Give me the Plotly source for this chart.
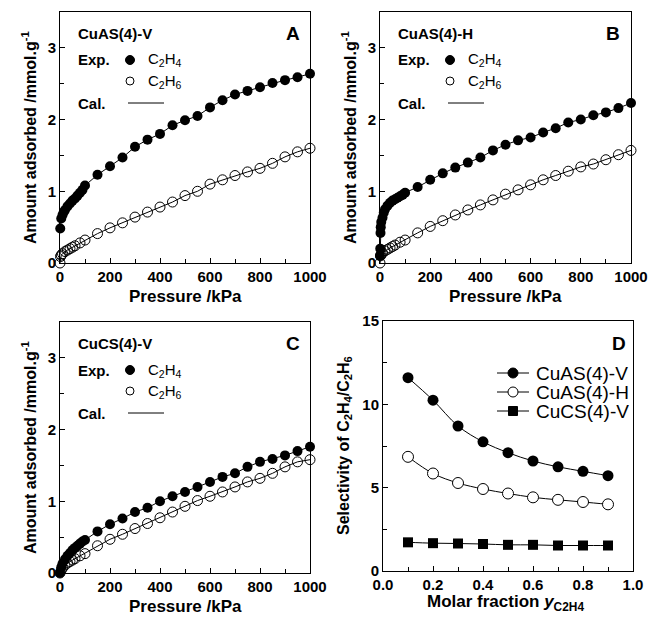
import plotly.graph_objects as go

W, H = 651, 628

# ---------------- data ----------------
# Panel A : CuAS(4)-V
A_P_C2H4 = [1, 5, 10, 15, 20, 30, 40, 50, 60, 70, 80, 90, 100, 150, 200, 250, 300, 350, 400,
            450, 500, 550, 600, 650, 700, 750, 800, 850, 900, 950, 1000]
A_C2H4 = [0.48, 0.62, 0.67, 0.71, 0.74, 0.79, 0.83, 0.87, 0.90, 0.94, 0.98, 1.02, 1.08, 1.23,
          1.35, 1.47, 1.62, 1.72, 1.80, 1.92, 1.99, 2.05, 2.17, 2.27, 2.35, 2.40, 2.45, 2.51,
          2.55, 2.59, 2.64]
A_P_C2H6 = [0, 2, 5, 10, 20, 30, 40, 50, 60, 80, 100, 150, 200, 250, 300, 350, 400, 450, 500,
            550, 600, 650, 700, 750, 800, 850, 900, 950, 1000]
A_C2H6 = [0.0, 0.09, 0.11, 0.13, 0.16, 0.18, 0.20, 0.22, 0.24, 0.28, 0.32, 0.41, 0.49, 0.56,
          0.64, 0.71, 0.78, 0.85, 0.94, 1.00, 1.10, 1.16, 1.22, 1.27, 1.32, 1.39, 1.48, 1.55, 1.60]

# Panel B : CuAS(4)-H
B_P_C2H4 = [0, 1, 2, 3, 5, 10, 15, 20, 30, 40, 50, 60, 70, 80, 90, 100, 150, 200, 250, 300,
            350, 400, 450, 500, 550, 600, 650, 700, 750, 800, 850, 900, 950, 1000]
B_C2H4 = [0.10, 0.20, 0.42, 0.50, 0.57, 0.63, 0.70, 0.75, 0.80, 0.84, 0.87, 0.89, 0.91, 0.93,
          0.95, 0.98, 1.06, 1.16, 1.25, 1.33, 1.40, 1.47, 1.57, 1.65, 1.71, 1.75, 1.82, 1.88,
          1.96, 2.00, 2.06, 2.10, 2.16, 2.23]
B_P_C2H6 = [0, 2, 5, 10, 20, 30, 40, 50, 60, 80, 100, 150, 200, 250, 300, 350, 400, 450, 500,
            550, 600, 650, 700, 750, 800, 850, 900, 950, 1000]
B_C2H6 = [0.0, 0.10, 0.12, 0.14, 0.17, 0.19, 0.21, 0.23, 0.25, 0.29, 0.32, 0.42, 0.51, 0.59,
          0.67, 0.74, 0.81, 0.88, 0.96, 1.02, 1.09, 1.16, 1.22, 1.28, 1.34, 1.38, 1.44, 1.51, 1.57]

# Panel C : CuCS(4)-V
C_P_C2H4 = [0, 5, 10, 20, 30, 40, 50, 60, 70, 80, 90, 100, 150, 200, 250, 300, 350, 400, 450,
            500, 550, 600, 650, 700, 750, 800, 850, 900, 950, 1000]
C_C2H4 = [0.0, 0.08, 0.13, 0.19, 0.24, 0.28, 0.32, 0.35, 0.38, 0.41, 0.44, 0.46, 0.58, 0.68,
          0.76, 0.85, 0.91, 1.00, 1.07, 1.13, 1.20, 1.27, 1.34, 1.39, 1.48, 1.55, 1.59, 1.64,
          1.70, 1.76]
C_P_C2H6 = [0, 5, 10, 20, 30, 40, 50, 60, 80, 100, 150, 200, 250, 300, 350, 400, 450, 500,
            550, 600, 650, 700, 750, 800, 850, 900, 950, 1000]
C_C2H6 = [0.0, 0.04, 0.07, 0.11, 0.14, 0.16, 0.18, 0.20, 0.24, 0.27, 0.38, 0.47, 0.54, 0.62,
          0.69, 0.77, 0.85, 0.93, 1.01, 1.07, 1.13, 1.20, 1.27, 1.32, 1.39, 1.48, 1.55, 1.58]

# Panel D : selectivity
D_y = [0.1, 0.2, 0.3, 0.4, 0.5, 0.6, 0.7, 0.8, 0.9]
D_CuAS_V = [11.6, 10.25, 8.7, 7.75, 7.1, 6.6, 6.25, 5.98, 5.72]
D_CuAS_H = [6.85, 5.85, 5.28, 4.92, 4.65, 4.42, 4.27, 4.14, 4.0]
D_CuCS_V = [1.72, 1.67, 1.65, 1.62, 1.57, 1.57, 1.53, 1.53, 1.53]

FONT = "Liberation Sans, Arial, sans-serif"


def px(x, y):
    return x / W, 1 - y / H


# panel frames in pixels: (left, right, top, bottom)
frames = {
    1: (60, 310, 12, 263),
    2: (380, 631, 12, 263),
    3: (60, 310, 322, 573),
    4: (383, 633, 321, 571),
}

fig = go.Figure()

iso = [
    (1, A_P_C2H4, A_C2H4, A_P_C2H6, A_C2H6),
    (2, B_P_C2H4, B_C2H4, B_P_C2H6, B_C2H6),
    (3, C_P_C2H4, C_C2H4, C_P_C2H6, C_C2H6),
]
for k, p4, v4, p6, v6 in iso:
    xa = "x" if k == 1 else f"x{k}"
    ya = "y" if k == 1 else f"y{k}"
    for p, v in ((p4, v4), (p6, v6)):
        fig.add_trace(go.Scatter(x=p, y=v, mode="lines", line=dict(color="black", width=1),
                                 xaxis=xa, yaxis=ya, showlegend=False, cliponaxis=False,
                                 hoverinfo="skip"))
    fig.add_trace(go.Scatter(x=p6, y=v6, mode="markers", xaxis=xa, yaxis=ya, showlegend=False,
                             cliponaxis=False,
                             marker=dict(symbol="circle-open", size=10, color="black",
                                         line=dict(width=1))))
    fig.add_trace(go.Scatter(x=p4, y=v4, mode="markers", xaxis=xa, yaxis=ya, showlegend=False,
                             cliponaxis=False,
                             marker=dict(symbol="circle", size=10, color="black")))

D_series = [
    ("CuAS(4)-V", D_CuAS_V, dict(symbol="circle", size=11, color="black")),
    ("CuAS(4)-H", D_CuAS_H, dict(symbol="circle", size=11, color="white",
                                 line=dict(color="black", width=1))),
    ("CuCS(4)-V", D_CuCS_V, dict(symbol="square", size=10, color="black")),
]
for name, vals, mk in D_series:
    fig.add_trace(go.Scatter(x=D_y, y=vals, mode="lines+markers", name=name, xaxis="x4",
                             yaxis="y4", cliponaxis=False, showlegend=False,
                             line=dict(color="black", width=1, shape="spline", smoothing=1),
                             marker=mk))

axis_common = dict(showline=True, linecolor="black", linewidth=1, mirror=True,
                   ticks="inside", ticklen=5, tickwidth=1, tickcolor="black",
                   showgrid=False, zeroline=False, automargin=False,
                   tickfont=dict(family=FONT, size=15, color="black", weight="bold"))

layout = dict(width=W, height=H, margin=dict(l=0, r=0, t=0, b=0, pad=0, autoexpand=False),
              plot_bgcolor="white", paper_bgcolor="white", showlegend=False,
              font=dict(family=FONT, color="black"))

for k, (l, r, t, b) in frames.items():
    xs = "" if k == 1 else str(k)
    xd = [l / W, r / W]
    yd = [1 - b / H, 1 - t / H]
    if k < 4:
        xax = dict(axis_common, domain=xd, range=[0, 1000], dtick=200, tick0=0,
                   minor=dict(dtick=100, ticks="inside", ticklen=4, tickcolor="black"),
                   anchor="y" + xs)
        yax = dict(axis_common, domain=yd, range=[0, 3.5], dtick=1, tick0=0,
                   minor=dict(dtick=0.5, ticks="inside", ticklen=4, tickcolor="black"),
                   anchor="x" + xs)
    else:
        xax = dict(axis_common, domain=xd, range=[0, 1.0], dtick=0.2, tick0=0,
                   tickformat=".1f",
                   minor=dict(dtick=0.1, ticks="inside", ticklen=4, tickcolor="black"),
                   anchor="y" + xs)
        yax = dict(axis_common, domain=yd, range=[0, 15], dtick=5, tick0=0,
                   minor=dict(dtick=2.5, ticks="inside", ticklen=4, tickcolor="black"),
                   anchor="x" + xs)
    layout["xaxis" + xs] = xax
    layout["yaxis" + xs] = yax

fig.update_layout(**layout)

ann = []
shapes = []


def text(x, y, s, size=15, bold=True, xanchor="left", angle=0):
    X, Y = px(x, y)
    ann.append(dict(x=X, y=Y, xref="paper", yref="paper", text=s, showarrow=False,
                    xanchor=xanchor, yanchor="middle", textangle=angle,
                    font=dict(family=FONT, size=size, color="black",
                              weight="bold" if bold else "normal")))


def circle(cx, cy, r, filled):
    x0, y1 = px(cx - r, cy - r)
    x1, y0 = px(cx + r, cy + r)
    shapes.append(dict(type="circle", xref="paper", yref="paper", x0=x0, x1=x1, y0=y0, y1=y1,
                       line=dict(color="black", width=1),
                       fillcolor="black" if filled else "white"))


def square(cx, cy, r):
    x0, y1 = px(cx - r, cy - r)
    x1, y0 = px(cx + r, cy + r)
    shapes.append(dict(type="rect", xref="paper", yref="paper", x0=x0, x1=x1, y0=y0, y1=y1,
                       line=dict(color="black", width=1), fillcolor="black"))


def hline(x0, x1, y):
    X0, Y = px(x0, y)
    X1, _ = px(x1, y)
    shapes.append(dict(type="line", xref="paper", yref="paper", x0=X0, x1=X1, y0=Y, y1=Y,
                       line=dict(color="black", width=1)))


C2H4 = "C<sub>2</sub>H<sub>4</sub>"
C2H6 = "C<sub>2</sub>H<sub>6</sub>"

panels = [(0, 0, "CuAS(4)-V", "A"), (320, 0, "CuAS(4)-H", "B"), (0, 310, "CuCS(4)-V", "C")]
for dx, dy, name, letter in panels:
    text(76 + dx, 33 + dy, name)
    text(302 + dx, 33 + dy, letter, size=19, xanchor="right")
    text(76 + dx, 60 + dy, "Exp.")
    circle(130 + dx, 60 + dy, 4.5, True)
    text(146 + dx, 60 + dy, C2H4, bold=False)
    circle(130 + dx, 81 + dy, 4, False)
    text(146 + dx, 81 + dy, C2H6, bold=False)
    text(76 + dx, 103 + dy, "Cal.")
    hline(128 + dx, 164 + dx, 103 + dy)
    text(185 + dx, 296 + dy, "Pressure /kPa", size=17, xanchor="center")
    text(29 + dx, 138 + dy, "Amount adsorbed /mmol.g<sup>-1</sup>", size=16,
         xanchor="center", angle=-90)

# Panel D labels
text(628, 343, "D", size=19, xanchor="right")
text(345, 446, "Selectivity of C<sub>2</sub>H<sub>4</sub>/C<sub>2</sub>H<sub>6</sub>", size=16,
     xanchor="center", angle=-90)
text(505, 603, "Molar fraction <i>y</i><sub>C2H4</sub>", size=17, xanchor="center")

# Panel D legend
leg_rows = [373, 392, 411]
for (name, vals, mk), yy in zip(D_series, leg_rows):
    hline(497, 529, yy)
    if mk["symbol"] == "square":
        square(513, yy, 4.5)
    else:
        circle(513, yy, 5, mk["color"] == "black")
    text(534, yy, name, size=19, bold=False)

fig.update_layout(annotations=ann, shapes=shapes)
fig.write_html("out.html", config={"displayModeBar": False},
               post_script="document.body.style.margin='0';document.body.style.overflow='hidden';")
